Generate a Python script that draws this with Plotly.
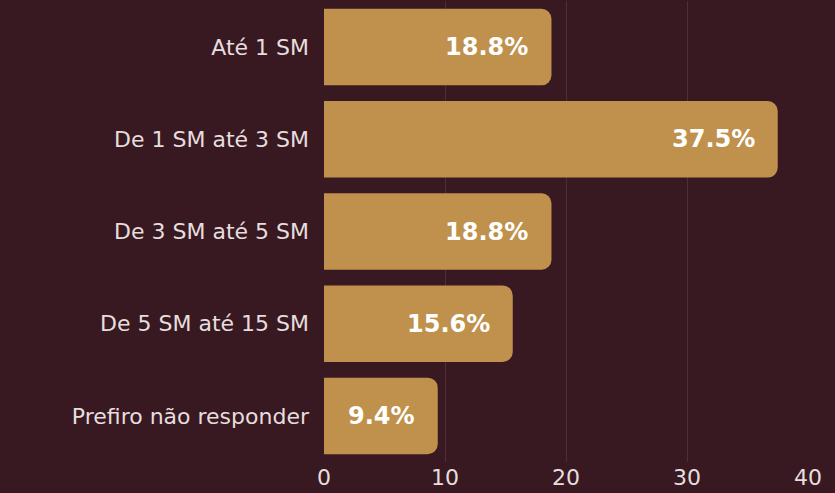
import plotly.graph_objects as go

categories = ["Até 1 SM", "De 1 SM até 3 SM", "De 3 SM até 5 SM", "De 5 SM até 15 SM", "Prefiro não responder"]
values = [18.8, 37.5, 18.8, 15.6, 9.4]
labels = ["18.8%", "37.5%", "18.8%", "15.6%", "9.4%"]
tick_vals = [0, 10, 20, 30, 40]

BG = "#381921"
BAR = "#BF914C"

fig = go.Figure()
fig.add_trace(go.Bar(
    y=categories, x=values, orientation="h",
    marker=dict(color=BAR, cornerradius=10, line=dict(width=0)),
    hoverinfo="skip",
))
for c, v, t in zip(categories, values, labels):
    fig.add_annotation(x=v, y=c, text=t, showarrow=False, xanchor="right",
                       xshift=-21, font=dict(family="DejaVu Sans", size=24, color="white", weight="bold"))

fig.update_layout(
    width=835, height=493,
    paper_bgcolor=BG, plot_bgcolor=BG,
    margin=dict(l=324, r=27, t=1, b=31, autoexpand=False),
    bargap=0.17,
    showlegend=False,
    font=dict(family="DejaVu Sans", color="#E6DEDE"),
)
fig.update_xaxes(range=[0, 40], tickvals=tick_vals, showgrid=True, gridcolor="#4F2F37", gridwidth=1,
                 zeroline=False, showline=False, tickfont=dict(size=22, color="#E6DEDE"), ticks="")
fig.update_yaxes(autorange="reversed", tickfont=dict(size=22, color="#E6DEDE"), ticks="", ticklen=0,
                 ticklabelstandoff=14, showgrid=False, showline=False)
fig.write_html("out.html", config={"displayModeBar": False},
               post_script="document.body.style.margin='0';document.body.style.background='" + BG + "';")
